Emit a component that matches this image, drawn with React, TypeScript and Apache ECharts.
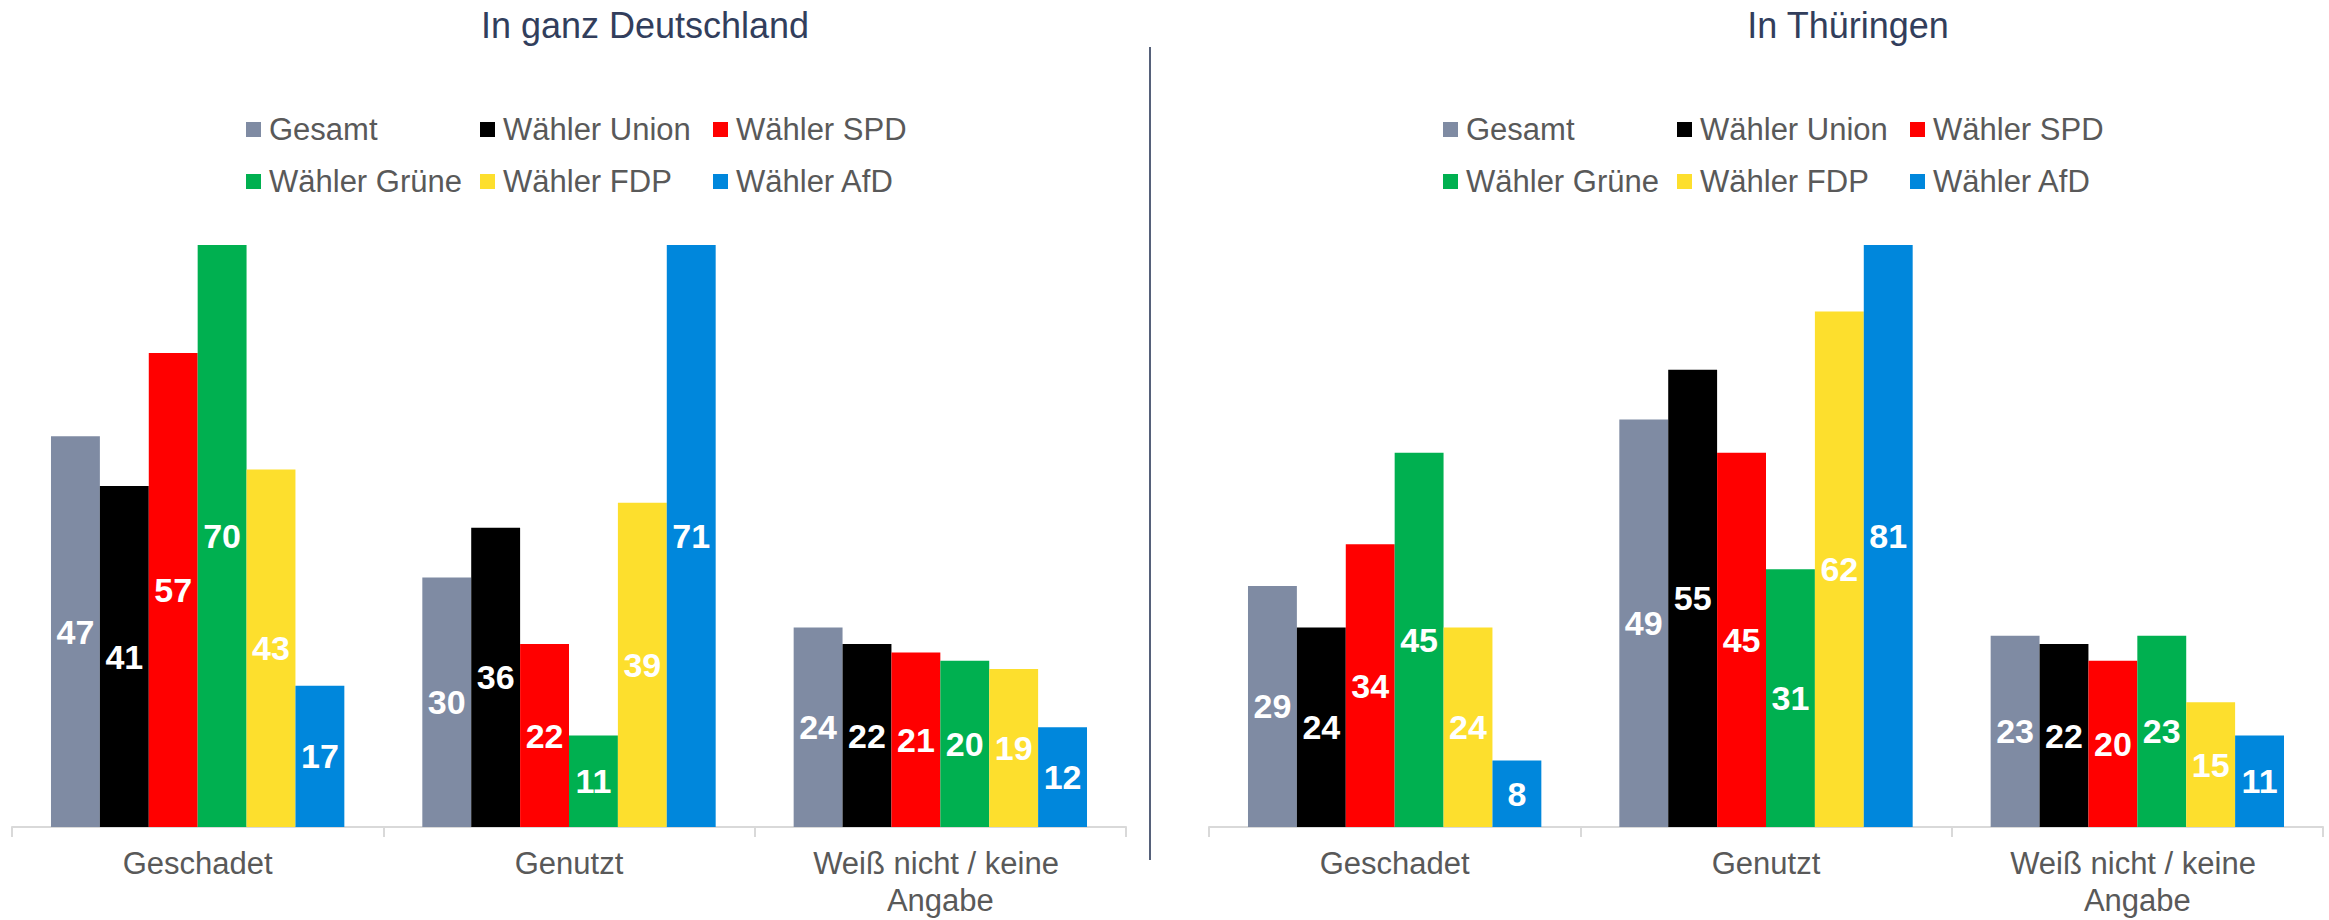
import React, { useEffect, useRef } from "react";
import * as echarts from "echarts";

const categories = ["Geschadet", "Genutzt", "Weiß nicht / keine Angabe"];
const seriesNames = ["Gesamt", "Wähler Union", "Wähler SPD", "Wähler Grüne", "Wähler FDP", "Wähler AfD"];
const seriesColors = ["#7f8ba3", "#000000", "#ff0000", "#00b050", "#fddf2d", "#0087dc"];
const panelTitles = ["In ganz Deutschland", "In Thüringen"];

// In ganz Deutschland (Geschadet, Genutzt, Weiß nicht)
const deGesamt = [47, 30, 24];
const deUnion = [41, 36, 22];
const deSPD = [57, 22, 21];
const deGruene = [70, 11, 20];
const deFDP = [43, 39, 19];
const deAfD = [17, 71, 12];

// In Thüringen
const thGesamt = [29, 49, 23];
const thUnion = [24, 55, 22];
const thSPD = [34, 45, 20];
const thGruene = [45, 31, 23];
const thFDP = [24, 62, 15];
const thAfD = [8, 81, 11];

const yMin = 0;
const yMax = 70;

const FONT = "'Liberation Sans', Arial, Helvetica, sans-serif";

export default function App() {
  const ref = useRef<HTMLDivElement | null>(null);

  useEffect(() => {
    if (!ref.current) return;
    document.body.style.margin = "0";
    const chart = echarts.init(ref.current, undefined, { renderer: "svg" });

    const panels = [
      [deGesamt, deUnion, deSPD, deGruene, deFDP, deAfD],
      [thGesamt, thUnion, thSPD, thGruene, thFDP, thAfD],
    ];
    const gridLefts = [12, 1209];
    const titleCenters = [645, 1848];
    const legendCols = [
      [246, 480, 713],
      [1443, 1677, 1910],
    ];
    const legendRows = [114, 166];

    const grids = gridLefts.map((l) => ({ left: l, width: 1114, top: 245, height: 582, containLabel: false }));

    const xAxes = gridLefts.map((_, i) => ({
      type: "category",
      gridIndex: i,
      data: categories,
      axisLine: { show: true, lineStyle: { color: "#d9d9d9", width: 2 } },
      axisTick: { show: true, length: 10, lineStyle: { color: "#d9d9d9", width: 2 } },
      axisLabel: {
        interval: 0,
        color: "#595959",
        fontSize: 31,
        fontFamily: FONT,
        margin: 18,
        lineHeight: 37,
        width: 330,
        overflow: "break",
      },
      splitLine: { show: false },
    }));

    const yAxes = gridLefts.map((_, i) => ({
      type: "value",
      gridIndex: i,
      min: yMin,
      max: yMax,
      show: false,
      splitLine: { show: false },
    }));

    const series: any[] = [];
    panels.forEach((panel, pi) => {
      panel.forEach((vals, si) => {
        series.push({
          type: "bar",
          name: seriesNames[si],
          xAxisIndex: pi,
          yAxisIndex: pi,
          data: vals,
          clip: true,
          barGap: "0%",
          barCategoryGap: "21%",
          itemStyle: { color: seriesColors[si] },
          label: {
            show: true,
            position: "inside",
            color: "#ffffff",
            fontWeight: "bold",
            fontSize: 34,
            fontFamily: FONT,
          },
        });
      });
    });

    const legends: any[] = [];
    legendCols.forEach((cols) => {
      seriesNames.forEach((name, idx) => {
        const row = Math.floor(idx / 3);
        const col = idx % 3;
        legends.push({
          data: [name],
          left: cols[col],
          top: legendRows[row],
          padding: 0,
          itemWidth: 15,
          itemHeight: 15,
          icon: "rect",
          selectedMode: false,
          textStyle: { color: "#595959", fontSize: 31, fontFamily: FONT, padding: [0, 0, 0, 3] },
        });
      });
    });

    const graphic: any[] = [
      {
        type: "line",
        shape: { x1: 1150, y1: 47, x2: 1150, y2: 860 },
        style: { stroke: "#56617a", lineWidth: 2 },
        silent: true,
      },
      ...panelTitles.map((t, i) => ({
        type: "text",
        x: titleCenters[i],
        y: 25,
        style: {
          text: t,
          fill: "#323e5c",
          fontSize: 36,
          fontFamily: FONT,
          textAlign: "center",
          textVerticalAlign: "middle",
        },
        silent: true,
      })),
    ];

    chart.setOption({
      animation: false,
      backgroundColor: "#ffffff",
      grid: grids,
      xAxis: xAxes,
      yAxis: yAxes,
      legend: legends,
      series,
      graphic,
      tooltip: { show: false },
    });

    return () => {
      chart.dispose();
    };
  }, []);

  return <div ref={ref} style={{ width: 2329, height: 920, background: "#fff" }} />;
}
